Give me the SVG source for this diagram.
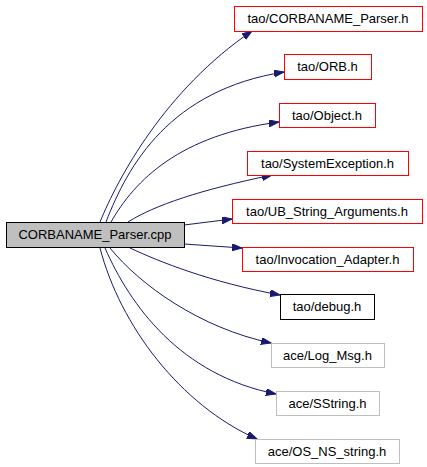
<svg xmlns="http://www.w3.org/2000/svg" width="427" height="467" viewBox="0 0 427 467">
<style>
.n rect{stroke-width:1}
.red rect{fill:#fff;stroke:#ff0000}
.blk rect{fill:#fff;stroke:#000}
.gry rect{fill:#fff;stroke:#bfbfbf}
.main rect{fill:#bfbfbf;stroke:#000}
text{font-family:"Liberation Sans",Arial,sans-serif;font-size:13px;text-anchor:middle;fill:#000}
.e path{fill:none;stroke:#191970;stroke-width:1}
</style>
<defs>
<marker id="ah" markerUnits="userSpaceOnUse" markerWidth="11" markerHeight="8" refX="10" refY="3.5" orient="auto" viewBox="0 0 11 8">
<path d="M0,0 L10,3.5 L0,7 z" fill="#191970" stroke="#191970"/>
</marker>
</defs>
<rect width="427" height="467" fill="#fff"/>
<g id="edges" class="e">
<path d="M100,222 C118,178 165,90 252,31" marker-end="url(#ah)"/>
<path d="M106,222 C128,165 170,90 284,72" marker-end="url(#ah)"/>
<path d="M111,222 C135,180 180,135 279,122" marker-end="url(#ah)"/>
<path d="M128,222 C155,205 200,190 272,175" marker-end="url(#ah)"/>
<path d="M184,225 L232,219" marker-end="url(#ah)"/>
<path d="M184,244 L242,248" marker-end="url(#ah)"/>
<path d="M130,248 C160,262 210,282 280,295" marker-end="url(#ah)"/>
<path d="M110,248 C140,285 200,328 271,343" marker-end="url(#ah)"/>
<path d="M105,248 C130,305 180,375 276,394" marker-end="url(#ah)"/>
<path d="M100,248 C120,325 180,405 257,439" marker-end="url(#ah)"/>
</g>
<g id="n0" class="n main"><rect x="6.5" y="222.5" width="178" height="25"/><text x="95" y="239">CORBANAME_Parser.cpp</text></g>
<g id="n1" class="n red"><rect x="234.5" y="6.5" width="188" height="25"/><text x="328" y="23">tao/CORBANAME_Parser.h</text></g>
<g id="n2" class="n red"><rect x="284.5" y="54.5" width="87" height="25"/><text x="327.5" y="71">tao/ORB.h</text></g>
<g id="n3" class="n red"><rect x="279.5" y="103.5" width="96" height="24"/><text x="327" y="119.5">tao/Object.h</text></g>
<g id="n4" class="n red"><rect x="247.5" y="151.5" width="161" height="24"/><text x="327.5" y="167.5">tao/SystemException.h</text></g>
<g id="n5" class="n red"><rect x="232.5" y="199.5" width="190" height="24"/><text x="327" y="215.5">tao/UB_String_Arguments.h</text></g>
<g id="n6" class="n red"><rect x="242.5" y="247.5" width="171" height="24"/><text x="327.5" y="263.5">tao/Invocation_Adapter.h</text></g>
<g id="n7" class="n blk"><rect x="280.5" y="294.5" width="94" height="25"/><text x="327" y="311">tao/debug.h</text></g>
<g id="n8" class="n gry"><rect x="271.5" y="343.5" width="113" height="24"/><text x="327.5" y="359.5">ace/Log_Msg.h</text></g>
<g id="n9" class="n gry"><rect x="276.5" y="391.5" width="103" height="24"/><text x="327.5" y="407.5">ace/SString.h</text></g>
<g id="n10" class="n gry"><rect x="255.5" y="439.5" width="144" height="24"/><text x="327" y="455.5">ace/OS_NS_string.h</text></g>
</svg>
